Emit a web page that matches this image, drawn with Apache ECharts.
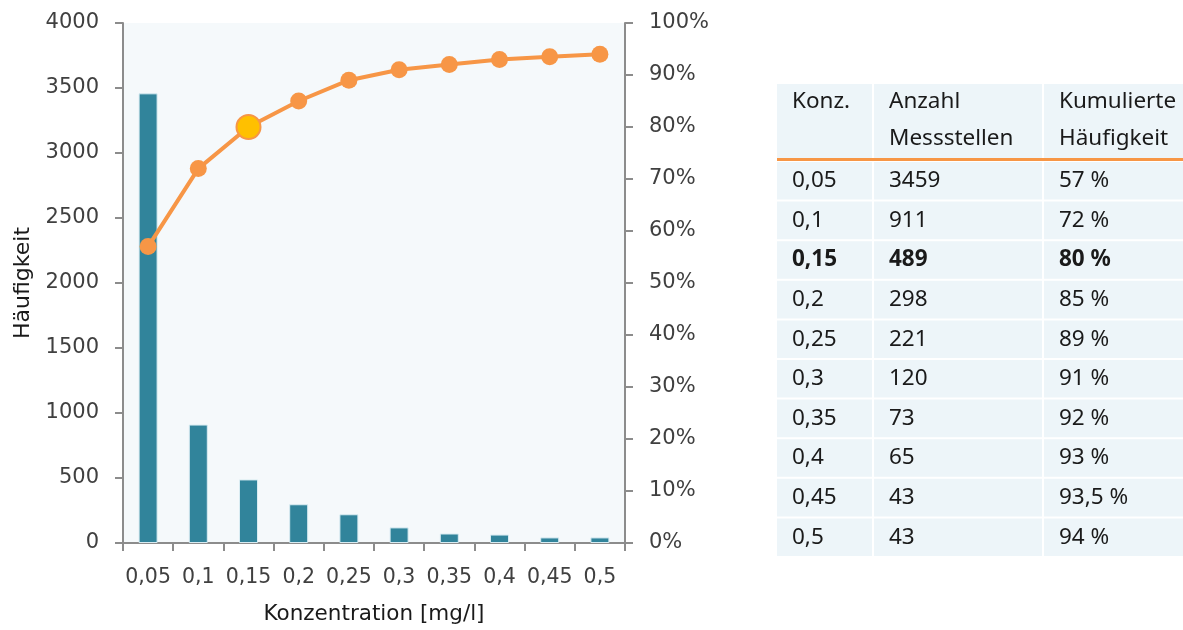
<!DOCTYPE html>
<html>
<head>
<meta charset="utf-8">
<script src="https://cdn.jsdelivr.net/npm/echarts@6/dist/echarts.min.js"></script>
<style>
  html, body { margin: 0; padding: 0; background: #ffffff; }
  #chart { width: 1183px; height: 630px; }
</style>
</head>
<body>
<div id="chart"></div>
<script>
// Concentration classes, counts per class and cumulative share (%)
const categories = ['0,05', '0,1', '0,15', '0,2', '0,25', '0,3', '0,35', '0,4', '0,45', '0,5'];
const counts = [3459, 911, 489, 298, 221, 120, 73, 65, 43, 43];
const cumulative = [57, 72, 80, 85, 89, 91, 92, 93, 93.5, 94];
const highlightIndex = 2;

// Table content
const tableHeader = [['Konz.'], ['Anzahl', 'Messstellen'], ['Kumulierte', 'Häufigkeit']];
const tableCumLabels = ['57 %', '72 %', '80 %', '85 %', '89 %', '91 %', '92 %', '93 %', '93,5 %', '94 %'];

const FONT = 'DejaVu Sans';
const TABLE_FONT = 'Noto Sans';
const axisColor = '#8c8c8c';
const textColor = '#404040';
const orange = '#f79646';

// Table drawn as graphic elements
const colX = [777, 874, 1044];
const colW = [95, 168, 139];
const headTop = 84, headH = 74;
const rowTop = 162, rowH = 37.6, rowPitch = 39.6;
const textPad = 15;
const cellFill = '#edf5f9';
const tableFont = '22.5px "' + TABLE_FONT + '"';

const graphics = [];
for (let c = 0; c < 3; c++) {
  graphics.push({ type: 'rect', shape: { x: colX[c], y: headTop, width: colW[c], height: headH }, style: { fill: cellFill } });
  tableHeader[c].forEach((line, k) => {
    graphics.push({ type: 'text', x: colX[c] + textPad, y: headTop + 18 + k * 37,
      style: { text: line, font: tableFont, fill: '#1a1a1a', verticalAlign: 'middle' } });
  });
}
graphics.push({ type: 'rect', shape: { x: 777, y: 158, width: 406, height: 3 }, style: { fill: orange } });
categories.forEach((cat, i) => {
  const y = rowTop + i * rowPitch;
  const cells = [cat, String(counts[i]), tableCumLabels[i]];
  const bold = i === highlightIndex;
  for (let c = 0; c < 3; c++) {
    graphics.push({ type: 'rect', shape: { x: colX[c], y: y, width: colW[c], height: rowH }, style: { fill: cellFill } });
    graphics.push({ type: 'text', x: colX[c] + textPad, y: y + rowH / 2,
      style: { text: cells[c], font: (bold ? 'bold ' : '') + tableFont, fill: '#1a1a1a', verticalAlign: 'middle' } });
  }
});

const chart = echarts.init(document.getElementById('chart'));
chart.setOption({
  animation: false,
  textStyle: { fontFamily: FONT },
  grid: {
    left: 123, right: 558, top: 23, bottom: 87,
    outerBoundsMode: 'none', containLabel: false,
    show: true, backgroundColor: '#f5f9fb', borderWidth: 0
  },
  xAxis: {
    type: 'category',
    data: categories,
    name: 'Konzentration [mg/l]',
    nameLocation: 'middle',
    nameGap: 60,
    nameTextStyle: { fontSize: 21.5, color: '#1a1a1a', fontFamily: FONT },
    axisLine: { lineStyle: { color: axisColor, width: 2 } },
    axisTick: { show: true, length: 8, lineStyle: { color: axisColor, width: 2 } },
    axisLabel: { fontSize: 20.5, color: textColor, margin: 24, interval: 0 }
  },
  yAxis: [
    {
      type: 'value', min: 0, max: 4000, interval: 500,
      name: 'Häufigkeit', nameLocation: 'middle', nameGap: 89, nameRotate: 90,
      nameTextStyle: { fontSize: 22, color: '#1a1a1a', fontFamily: FONT },
      axisLine: { show: true, lineStyle: { color: axisColor, width: 2 } },
      axisTick: { show: true, length: 8, lineStyle: { color: axisColor, width: 2 } },
      axisLabel: { fontSize: 21, color: textColor, margin: 24, formatter: (v) => String(v) },
      splitLine: { show: false }
    },
    {
      type: 'value', min: 0, max: 100, interval: 10, position: 'right',
      axisLine: { show: true, lineStyle: { color: axisColor, width: 2 } },
      axisTick: { show: true, length: 8, lineStyle: { color: axisColor, width: 2 } },
      axisLabel: { fontSize: 21, color: textColor, margin: 24, formatter: '{value}%' },
      splitLine: { show: false }
    }
  ],
  series: [
    {
      type: 'bar', data: counts, yAxisIndex: 0, barWidth: 19,
      itemStyle: { color: '#31849b', borderColor: '#d9ecf2', borderWidth: 1 }
    },
    {
      type: 'line', yAxisIndex: 1,
      data: cumulative.map((v, i) => i === highlightIndex
        ? { value: v, symbolSize: 24, itemStyle: { color: '#ffc000', borderColor: orange, borderWidth: 2 } }
        : v),
      symbol: 'circle', symbolSize: 17,
      lineStyle: { color: orange, width: 4 },
      itemStyle: { color: orange }
    }
  ],
  graphic: graphics
});
</script>
</body>
</html>
